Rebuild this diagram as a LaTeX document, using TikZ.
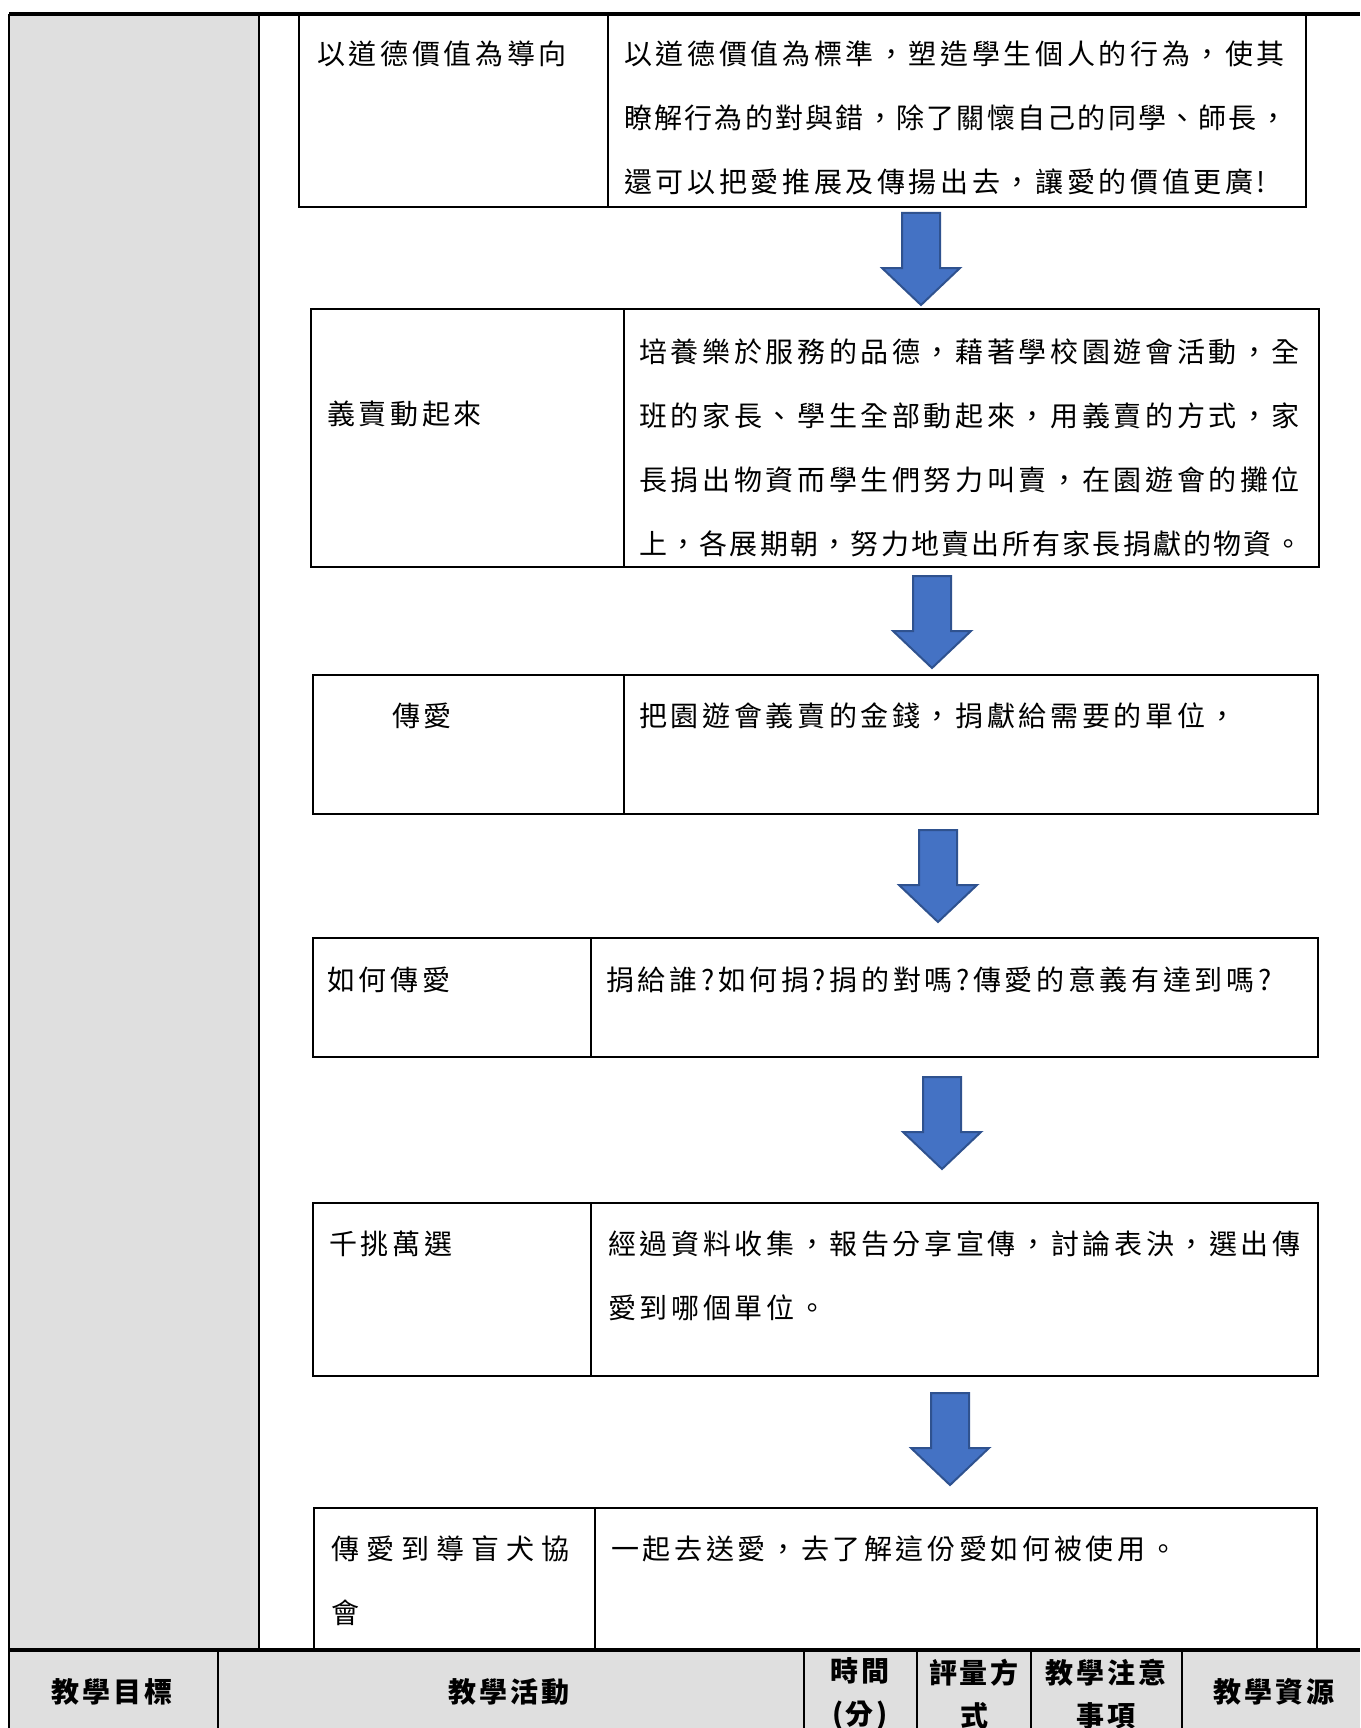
\documentclass[tikz,border=0pt]{standalone}
\usepackage{fontspec}
\newfontfamily\cjk[LetterSpace=13]{Noto Sans CJK TC}
\usepackage{tikz}
\usetikzlibrary{calc}

\definecolor{cellgray}{RGB}{223,223,223}
\definecolor{arrowfill}{RGB}{68,114,196}
\definecolor{arrowline}{RGB}{47,82,143}

\begin{document}
\begin{tikzpicture}[x=1pt,y=-1pt,
	cell/.style={draw,line width=2pt,anchor=north west,inner sep=0pt},
	txt/.style={anchor=north west,inner sep=0pt,align=left,font=\cjk\fontsize{28}{64}\selectfont},
	head/.style={inner sep=0pt,align=center,font=\cjk\bfseries\addfontfeature{LetterSpace=10}\fontsize{28}{43}\selectfont},
	downarrow/.pic={\filldraw[fill=arrowfill,draw=arrowline,line width=2pt] (-19,0) -- (19,0) -- (19,55) -- (39,55) -- (0,92) -- (-39,55) -- (-19,55) -- cycle;}]
	\useasboundingbox (0,0) rectangle (1360,1728);
	\fill[cellgray] (9,14) rectangle (259,1650); % left column
	\fill[cellgray] (9,1650) rectangle (1360,1728); % header row
	\draw[line width=2pt] (9,14) -- (9,1728) (259,14) -- (259,1650);
	\draw[line width=4pt] (9,14) -- (1360,14);
	\draw[line width=3.5pt] (9,1650) -- (1360,1650);
	\draw[line width=2pt] (218,1650) -- ++(0,78) (804,1650) -- ++(0,78) (917,1650) -- ++(0,78) (1031,1650) -- ++(0,78) (1182,1650) -- ++(0,78);
	% steps
	\node[cell,minimum width=309,minimum height=192] (l1) at (298,14) {};
	\node[cell,minimum width=698,minimum height=192] (r1) at (607,14) {};
	\node[cell,minimum width=313,minimum height=258] (l2) at (310,308) {};
	\node[cell,minimum width=695,minimum height=258] (r2) at (623,308) {};
	\node[cell,minimum width=311,minimum height=139] (l3) at (312,674) {};
	\node[cell,minimum width=694,minimum height=139] (r3) at (623,674) {};
	\node[cell,minimum width=278,minimum height=119] (l4) at (312,937) {};
	\node[cell,minimum width=727,minimum height=119] (r4) at (590,937) {};
	\node[cell,minimum width=278,minimum height=173] (l5) at (312,1202) {};
	\node[cell,minimum width=727,minimum height=173] (r5) at (590,1202) {};
	\node[cell,minimum width=281,minimum height=143] (l6) at (313,1507) {};
	\node[cell,minimum width=722,minimum height=143] (r6) at (594,1507) {};
	% texts
	\node[txt] (t1a) at ($(l1.north west)+(19,27)$) {以道德價值為導向};
	\node[txt] (t1b) at ($(r1.north west)+(17,27)$) {以道德價值為標準，塑造學生個人的行為，使其\\{\addfontfeature{LetterSpace=8}瞭解行為的對與錯，除了關懷自己的同學、師長，}\\還可以把愛推展及傳揚出去，讓愛的價值更廣!};
	\node[txt] (t2a) at ($(l2.north west)+(17,93)$) {義賣動起來};
	\node[txt] (t2b) at ($(r2.north west)+(16,31)$) {培養樂於服務的品德，藉著學校園遊會活動，全\\班的家長、學生全部動起來，用義賣的方式，家\\長捐出物資而學生們努力叫賣，在園遊會的攤位\\{\addfontfeature{LetterSpace=8}上，各展期朝，努力地賣出所有家長捐獻的物資。}};
	\node[txt] (t3a) at ($(l3.north west)+(80,29)$) {傳愛};
	\node[txt] (t3b) at ($(r3.north west)+(16,29)$) {把園遊會義賣的金錢，捐獻給需要的單位，};
	\node[txt] (t4a) at ($(l4.north west)+(15,30)$) {如何傳愛};
	\node[txt] (t4b) at ($(r4.north west)+(16,30)$) {捐給誰?如何捐?捐的對嗎?傳愛的意義有達到嗎?};
	\node[txt] (t5a) at ($(l5.north west)+(17,29)$) {千挑萬選};
	\node[txt] (t5b) at ($(r5.north west)+(18,29)$) {經過資料收集，報告分享宣傳，討論表決，選出傳\\愛到哪個單位。};
	\node[txt] (t6a) at ($(l6.north west)+(18,28)$) {{\addfontfeature{LetterSpace=25}傳愛到導盲犬協}\\會};
	\node[txt] (t6b) at ($(r6.north west)+(17,28)$) {一起去送愛，去了解這份愛如何被使用。};
	% arrows
	\pic at (921,213) {downarrow};
	\pic at (932,576) {downarrow};
	\pic at (938,830) {downarrow};
	\pic at (942,1077) {downarrow};
	\pic at (950,1393) {downarrow};
	% header
	\node[head] (h1) at (112,1692) {教學目標};
	\node[head] (h2) at (509,1692) {教學活動};
	\node[head] (h3) at (860,1694) {時間\\(分)};
	\node[head] (h4) at (974,1694) {評量方\\式};
	\node[head] (h5) at (1106,1694) {教學注意\\事項};
	\node[head] (h6) at (1274,1692) {教學資源};
\end{tikzpicture}
\end{document}
